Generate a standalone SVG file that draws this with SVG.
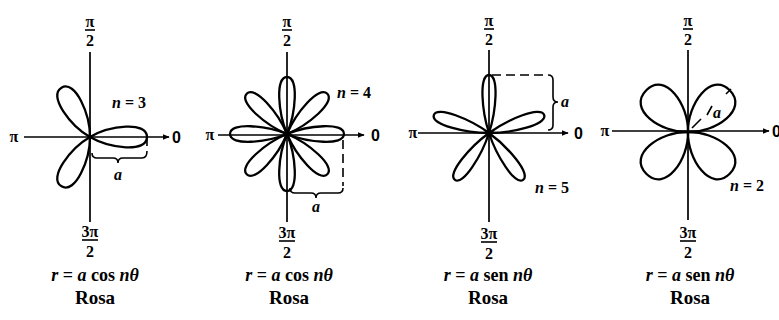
<svg xmlns="http://www.w3.org/2000/svg" xmlns:xlink="http://www.w3.org/1999/xlink" width="779" height="320" viewBox="0 0 779 320">
<style>
.ax{stroke:#000;stroke-width:1.7;fill:none}
.pt{stroke:#000;stroke-width:2.3;fill:none}
.br{stroke:#000;stroke-width:1.6;fill:none}
.ds{stroke:#000;stroke-width:1.6;fill:none;stroke-dasharray:9 5}
.t{font-family:"Liberation Serif",serif;font-weight:bold;font-size:16px;fill:#000}
.cap{font-family:"Liberation Serif",serif;font-weight:bold;font-size:18px;fill:#000;text-anchor:middle}
.ros{font-family:"Liberation Serif",serif;font-weight:bold;font-size:19px;fill:#000;text-anchor:middle}
.s{font-family:"Liberation Sans",sans-serif;font-weight:bold;font-size:16px;fill:#000}
.i{font-style:italic}
.c{text-anchor:middle}
</style>
<defs>
<marker id="ar" viewBox="0 0 10 10" refX="9" refY="5" markerWidth="7" markerHeight="7" orient="auto" markerUnits="userSpaceOnUse"><path d="M0,1 L10,5 L0,9 Z" fill="#000"/></marker>
<path id="p3" d="M0,0 C19.7,11.4 57,16 57,0 C57,-16 19.7,-11.4 0,0Z"/>
<path id="p4" d="M0,0 C21.1,8.7 57,12 57,0 C57,-12 21.1,-8.7 0,0Z"/>
<path id="p5" d="M0,0 C22,7.2 58,10.2 58,0 C58,-10.2 22,-7.2 0,0Z"/>
<path id="p2" d="M0,0 C19,20 59,27 59,0 C59,-27 19,-20 0,0Z"/>
</defs>

<g id="connectors">
<line class="ax" x1="90" y1="52" x2="90" y2="222"/>
<line class="ax" x1="24" y1="137" x2="169" y2="137" marker-end="url(#ar)"/>
<line class="ax" x1="287" y1="52" x2="287" y2="222"/>
<line class="ax" x1="218" y1="135" x2="364" y2="135" marker-end="url(#ar)"/>
<line class="ax" x1="489" y1="50" x2="489" y2="222"/>
<line class="ax" x1="418" y1="133" x2="568" y2="133" marker-end="url(#ar)"/>
<line class="ax" x1="688" y1="50" x2="688" y2="220"/>
<line class="ax" x1="612" y1="131" x2="769" y2="131" marker-end="url(#ar)"/>
</g>

<g id="rose1">
<g class="pt" transform="translate(90,137)">
<use xlink:href="#p3"/>
<use xlink:href="#p3" transform="rotate(-120)"/>
<use xlink:href="#p3" transform="rotate(120)"/>
</g>
<line class="br" x1="147" y1="139" x2="147" y2="146"/>
<path class="br" d="M92,153 Q92,158 97,158 L113,158 Q118,158 118,163 Q118,158 123,158 L142,158 Q147,158 147,151"/>
<text class="t i c" x="118" y="180">a</text>
<text class="t" x="112" y="108"><tspan class="i">n</tspan> = 3</text>
<text class="t c" x="90" y="27">π</text>
<line class="br" x1="85" y1="30" x2="95" y2="30"/>
<text class="t c" x="90" y="46">2</text>
<text class="t c" x="90" y="237">3π</text>
<line class="br" x1="82" y1="240" x2="98" y2="240"/>
<text class="t c" x="90" y="257">2</text>
<text class="t c" x="14" y="142">π</text>
<text class="s" x="172" y="143">0</text>
<text class="cap" x="95" y="281"><tspan class="i">r</tspan> = <tspan class="i">a</tspan> cos <tspan class="i">n</tspan><tspan class="i">θ</tspan></text>
<text class="ros" x="95" y="304">Rosa</text>
</g>

<g id="rose2">
<g class="pt" transform="translate(287,134)">
<use xlink:href="#p4"/>
<use xlink:href="#p4" transform="rotate(45)"/>
<use xlink:href="#p4" transform="rotate(90)"/>
<use xlink:href="#p4" transform="rotate(135)"/>
<use xlink:href="#p4" transform="rotate(180)"/>
<use xlink:href="#p4" transform="rotate(225)"/>
<use xlink:href="#p4" transform="rotate(270)"/>
<use xlink:href="#p4" transform="rotate(315)"/>
</g>
<line class="ds" x1="343" y1="140" x2="343" y2="186"/>
<path class="br" d="M290,188 Q290,193 295,193 L311,193 Q316,193 316,198 Q316,193 321,193 L338,193 Q343,193 343,188"/>
<text class="t i c" x="316" y="212">a</text>
<text class="t" x="337" y="98"><tspan class="i">n</tspan> = 4</text>
<text class="t c" x="287" y="27">π</text>
<line class="br" x1="282" y1="30" x2="292" y2="30"/>
<text class="t c" x="287" y="46">2</text>
<text class="t c" x="287" y="238">3π</text>
<line class="br" x1="279" y1="241" x2="295" y2="241"/>
<text class="t c" x="287" y="258">2</text>
<text class="t c" x="210" y="140">π</text>
<text class="s" x="371" y="141">0</text>
<text class="cap" x="289" y="281"><tspan class="i">r</tspan> = <tspan class="i">a</tspan> cos <tspan class="i">n</tspan><tspan class="i">θ</tspan></text>
<text class="ros" x="289" y="304">Rosa</text>
</g>

<g id="rose3">
<g class="pt" transform="translate(489,133)">
<use xlink:href="#p5" transform="rotate(-18)"/>
<use xlink:href="#p5" transform="rotate(-90)"/>
<use xlink:href="#p5" transform="rotate(-162)"/>
<use xlink:href="#p5" transform="rotate(-234)"/>
<use xlink:href="#p5" transform="rotate(-306)"/>
</g>
<line class="ds" x1="492" y1="75" x2="548" y2="75"/>
<path class="br" d="M548,75 Q553,75 553,80 L553,97 Q553,102 558,102 Q553,102 553,107 L553,125 Q553,130 548,130"/>
<text class="t i" x="561" y="107">a</text>
<text class="t" x="535" y="193"><tspan class="i">n</tspan> = 5</text>
<text class="t c" x="489" y="26">π</text>
<line class="br" x1="484" y1="29" x2="494" y2="29"/>
<text class="t c" x="489" y="45">2</text>
<text class="t c" x="489" y="239">3π</text>
<line class="br" x1="481" y1="242" x2="497" y2="242"/>
<text class="t c" x="489" y="259">2</text>
<text class="t c" x="413" y="138">π</text>
<text class="s" x="574" y="139">0</text>
<text class="cap" x="488" y="281"><tspan class="i">r</tspan> = <tspan class="i">a</tspan> sen <tspan class="i">n</tspan><tspan class="i">θ</tspan></text>
<text class="ros" x="488" y="304">Rosa</text>
</g>

<g id="rose4">
<g class="pt" transform="translate(688,132)">
<use xlink:href="#p2" transform="rotate(-45)"/>
<use xlink:href="#p2" transform="rotate(-135)"/>
<use xlink:href="#p2" transform="rotate(-225)"/>
<use xlink:href="#p2" transform="rotate(-315)"/>
</g>
<line class="br" x1="692" y1="128" x2="701" y2="119"/>
<line class="br" x1="707" y1="115" x2="712" y2="106"/>
<line class="br" x1="726" y1="94" x2="731" y2="89"/>
<text class="t i" x="713" y="118">a</text>
<text class="t" x="730" y="191"><tspan class="i">n</tspan> = 2</text>
<text class="t c" x="688" y="26">π</text>
<line class="br" x1="683" y1="29" x2="693" y2="29"/>
<text class="t c" x="688" y="45">2</text>
<text class="t c" x="688" y="238">3π</text>
<line class="br" x1="680" y1="241" x2="696" y2="241"/>
<text class="t c" x="688" y="258">2</text>
<text class="t c" x="605" y="136">π</text>
<text class="s" x="772" y="137">0</text>
<text class="cap" x="690" y="281"><tspan class="i">r</tspan> = <tspan class="i">a</tspan> sen <tspan class="i">n</tspan><tspan class="i">θ</tspan></text>
<text class="ros" x="690" y="304">Rosa</text>
</g>
</svg>
